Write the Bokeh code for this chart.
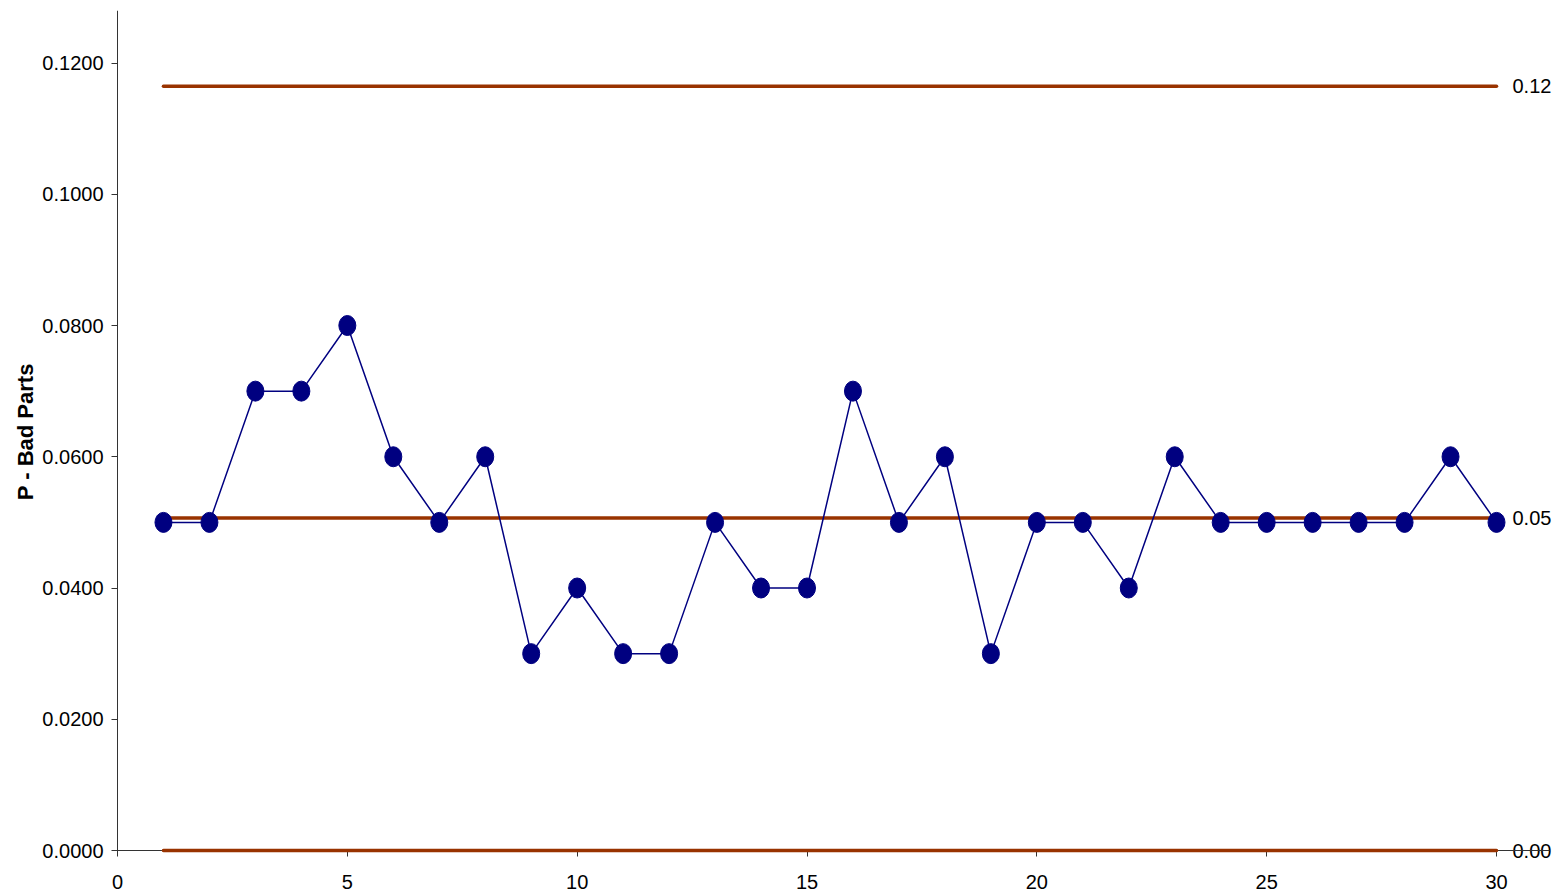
import numpy as np
from bokeh.plotting import figure
from bokeh.models import (ColumnDataSource, Range1d, FixedTicker,
                          CustomJSTickFormatter, Label)
from bokeh.embed import file_html
from bokeh.resources import INLINE

# Sample number and fraction of bad parts per sample (n = 100 per sample)
samples = list(range(1, 31))
p_bad = [0.05, 0.05, 0.07, 0.07, 0.08, 0.06, 0.05, 0.06, 0.03, 0.04,
         0.03, 0.03, 0.05, 0.04, 0.04, 0.07, 0.05, 0.06, 0.03, 0.05,
         0.05, 0.04, 0.06, 0.05, 0.05, 0.05, 0.05, 0.05, 0.06, 0.05]
sample_size = 100
y_ticks = [0.0, 0.02, 0.04, 0.06, 0.08, 0.10, 0.12]
x_ticks = [0, 5, 10, 15, 20, 25, 30]

# p-chart control limits
p_bar = float(np.mean(p_bad))
sigma = np.sqrt(p_bar * (1 - p_bar) / sample_size)
ucl = p_bar + 3 * sigma
lcl = max(0.0, p_bar - 3 * sigma)
limits = [ucl, p_bar, lcl]

FONT = "Liberation Sans"
NAVY = "#000080"
BROWN = "#993300"
AXIS = "#333333"

# the frame fills the page; both axes are pinned at 0
W, H = 1558, 894
x0_px, x30_px = 117, 1496
y0_px, ytop_px = 850, 10
x_scale = (x30_px - x0_px) / 30.0
y_top = 0.128
y_scale = (y0_px - ytop_px) / y_top
x_start, x_end = -x0_px / x_scale, (W - x0_px) / x_scale
y_start = -(H - y0_px) / y_scale

p = figure(width=W, height=H, output_backend="svg", toolbar_location=None,
           x_range=Range1d(x_start, x_end), y_range=Range1d(y_start, y_top),
           min_border_left=0, min_border_right=0, min_border_top=10,
           min_border_bottom=0)
p.outline_line_color = None
p.xgrid.visible = False
p.ygrid.visible = False

# control limit lines
for lim in limits:
    r = p.line([samples[0], samples[-1]], [lim, lim], line_color=BROWN,
               line_width=3.5, line_cap="round")
    if lim == 0:
        r.level = "overlay"

# data series
p.line(samples, p_bad, line_color=NAVY, line_width=1.5)
src = ColumnDataSource(dict(x=samples, y=p_bad))
p.ellipse(x="x", y="y", width=17, height=20, width_units="screen",
          height_units="screen", source=src, fill_color=NAVY, line_color=NAVY)

# limit labels at the right end
for lim in limits:
    p.add_layout(Label(x=samples[-1], y=lim, text=f"{lim:.2f}", x_offset=16,
                       text_font=FONT, text_font_size="20px",
                       text_color="#000000", text_align="left",
                       text_baseline="middle", level="glyph"))

# y axis title
p.add_layout(Label(x=25, y=y_top / 2, y_offset=8, x_units="screen",
                   text="P  -  Bad  Parts", angle=np.pi / 2, text_font=FONT,
                   text_font_style="bold", text_font_size="22px",
                   text_color="#000000", text_align="center",
                   text_baseline="middle"))

# axes
for ax in (p.xaxis[0], p.yaxis[0]):
    ax.axis_line_color = AXIS
    ax.axis_line_width = 1
    ax.major_tick_line_color = AXIS
    ax.major_tick_out = 6
    ax.major_tick_in = 0
    ax.minor_tick_line_color = None
    ax.major_label_text_font = FONT
    ax.major_label_text_font_size = "20px"
    ax.major_label_text_color = "#000000"

p.xaxis.ticker = FixedTicker(ticks=x_ticks)
p.xaxis.major_label_standoff = 18
p.xaxis.fixed_location = 0
p.xaxis.bounds = (0, 31.15)

p.yaxis.ticker = FixedTicker(ticks=y_ticks)
p.yaxis.formatter = CustomJSTickFormatter(code="return tick.toFixed(4);")
p.yaxis.fixed_location = 0
p.yaxis.bounds = (-0.0006, y_top)
p.yaxis.major_label_standoff = 8

open("out.html", "w").write(file_html(p, INLINE))
